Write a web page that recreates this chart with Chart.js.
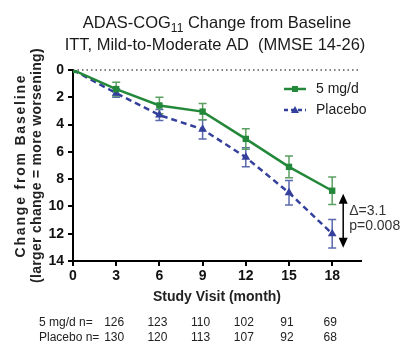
<!DOCTYPE html>
<html>
<head>
<meta charset="utf-8">
<script src="https://cdn.jsdelivr.net/npm/chart.js@4/dist/chart.umd.min.js"></script>
<style>
  html, body { margin: 0; padding: 0; background: #fff; }
  canvas { display: block; }
</style>
</head>
<body>
<canvas id="chart" width="417" height="364"></canvas>
<script>
// Données
const MONTHS = [0, 3, 6, 9, 12, 15, 18];
const DRUG = [0, 1.4, 2.6, 3.05, 5.05, 7.1, 8.85];
const DRUG_ERR = [0, 0.5, 0.6, 0.6, 0.75, 0.8, 1.0];
const PLACEBO = [0, 1.7, 3.3, 4.35, 6.4, 9.0, 12.0];
const PLACEBO_ERR = [0, 0.3, 0.4, 0.7, 0.7, 0.9, 1.05];

const X_TICKS = [0, 3, 6, 9, 12, 15, 18];
const Y_TICKS = [0, 2, 4, 6, 8, 10, 12, 14];

const N_MONTHS = [3, 6, 9, 12, 15, 18];
const N_DRUG = [126, 123, 110, 102, 91, 69];
const N_PLACEBO = [130, 120, 113, 107, 92, 68];

const DELTA_TEXT = ['\u0394=3.1', 'p=0.008'];
const Y_TITLE = ['Change from Baseline', '(larger change = more worsening)'];

const GREEN = '#23883a';
const GREEN_ERR = '#5b9f63';
const BLUE = '#34409c';
const BLUE_ERR = '#5a68ad';
const FONT = '"Liberation Sans", Arial, sans-serif';

// Titre avec indice + titre de l'axe Y
const titlePlugin = {
    id: 'titleSub',
    afterDraw(chart) {
        const ctx = chart.ctx;
        ctx.save();
        ctx.fillStyle = '#1a1a1a';
        ctx.textBaseline = 'alphabetic';
        const big = '16.5px ' + FONT;
        const small = '12px ' + FONT;
        const parts = [['ADAS-COG', big, 0], ['11', small, 4], [' Change from Baseline', big, 0]];
        let total = 0;
        parts.forEach(p => { ctx.font = p[1]; total += ctx.measureText(p[0]).width; });
        let x = 217 - total / 2;
        parts.forEach(p => {
            ctx.font = p[1];
            ctx.fillText(p[0], x, 28 + p[2]);
            x += ctx.measureText(p[0]).width;
        });
        ctx.font = big;
        ctx.textAlign = 'center';
        ctx.fillText('ITT, Mild-to-Moderate AD  (MMSE 14-26)', 215, 50);

        // titre Y sur deux lignes
        const area = chart.chartArea;
        const cy = (area.top + area.bottom) / 2;
        ctx.fillStyle = '#222';
        ctx.font = 'bold 14px ' + FONT;
        ctx.textBaseline = 'middle';
        ctx.translate(21, cy);
        ctx.rotate(-Math.PI / 2);
        ctx.letterSpacing = '1.8px';
        ctx.fillText(Y_TITLE[0], 0, 0);
        ctx.letterSpacing = '0.3px';
        ctx.fillText(Y_TITLE[1], 0, 16);
        ctx.restore();
    }
};

// Barres d'erreur, ligne pointillée, flèche et tableau des effectifs
const extrasPlugin = {
    id: 'extras',
    beforeDatasetsDraw(chart) {
        const ctx = chart.ctx;
        const xs = chart.scales.x;
        const ys = chart.scales.y;
        ctx.save();
        // ligne de référence à 0
        ctx.strokeStyle = '#555';
        ctx.lineWidth = 1.5;
        ctx.setLineDash([1.5, 3]);
        ctx.beginPath();
        ctx.moveTo(xs.getPixelForValue(0), ys.getPixelForValue(0));
        ctx.lineTo(xs.getPixelForValue(xs.max), ys.getPixelForValue(0));
        ctx.stroke();
        ctx.setLineDash([]);

        const drawErr = (vals, errs, color) => {
            ctx.strokeStyle = color;
            ctx.lineWidth = 1.5;
            MONTHS.forEach((m, i) => {
                if (!errs[i]) return;
                const px = xs.getPixelForValue(m);
                const top = ys.getPixelForValue(vals[i] - errs[i]);
                const bot = ys.getPixelForValue(vals[i] + errs[i]);
                ctx.beginPath();
                ctx.moveTo(px, top); ctx.lineTo(px, bot);
                ctx.moveTo(px - 4, top); ctx.lineTo(px + 4, top);
                ctx.moveTo(px - 4, bot); ctx.lineTo(px + 4, bot);
                ctx.stroke();
            });
        };
        drawErr(PLACEBO, PLACEBO_ERR, BLUE_ERR);
        drawErr(DRUG, DRUG_ERR, GREEN_ERR);
        ctx.restore();
    },
    afterDraw(chart) {
        const ctx = chart.ctx;
        const xs = chart.scales.x;
        const ys = chart.scales.y;
        ctx.save();

        // flèche double
        const last = MONTHS.length - 1;
        const ax = xs.getPixelForValue(MONTHS[last]) + 11;
        const y1 = ys.getPixelForValue(DRUG[last]) + 3;
        const y2 = ys.getPixelForValue(PLACEBO[last]) + 14;
        ctx.strokeStyle = '#000';
        ctx.fillStyle = '#000';
        ctx.lineWidth = 1.5;
        ctx.beginPath();
        ctx.moveTo(ax, y1 + 8); ctx.lineTo(ax, y2 - 8);
        ctx.stroke();
        ctx.beginPath();
        ctx.moveTo(ax, y1); ctx.lineTo(ax - 4.5, y1 + 10); ctx.lineTo(ax + 4.5, y1 + 10); ctx.closePath();
        ctx.fill();
        ctx.beginPath();
        ctx.moveTo(ax, y2); ctx.lineTo(ax - 4.5, y2 - 10); ctx.lineTo(ax + 4.5, y2 - 10); ctx.closePath();
        ctx.fill();

        ctx.fillStyle = '#333';
        ctx.font = '14px ' + FONT;
        ctx.textBaseline = 'middle';
        ctx.fillText(DELTA_TEXT[0], ax + 6, 211);
        ctx.fillText(DELTA_TEXT[1], ax + 6, 226);

        // légende
        const items = [
            { label: '5 mg/d', color: GREEN, dash: [], style: 'rect', y: 89 },
            { label: 'Placebo', color: BLUE, dash: [4, 3], style: 'triangle', y: 110 }
        ];
        items.forEach(it => {
            ctx.strokeStyle = it.color;
            ctx.fillStyle = it.color;
            ctx.lineWidth = 2.5;
            ctx.setLineDash(it.dash);
            ctx.beginPath();
            ctx.moveTo(284, it.y); ctx.lineTo(306, it.y);
            ctx.stroke();
            ctx.setLineDash([]);
            if (it.style === 'rect') {
                ctx.fillRect(292, it.y - 3, 6, 6);
            } else {
                ctx.beginPath();
                ctx.moveTo(295, it.y - 4); ctx.lineTo(291, it.y + 3); ctx.lineTo(299, it.y + 3); ctx.closePath();
                ctx.fill();
            }
            ctx.fillStyle = '#222';
            ctx.font = '14px ' + FONT;
            ctx.fillText(it.label, 316, it.y);
        });

        // effectifs
        ctx.fillStyle = '#222';
        ctx.font = '12px ' + FONT;
        ctx.textAlign = 'left';
        ctx.fillText('5 mg/d n=', 39, 323);
        ctx.fillText('Placebo n=', 39, 338);
        ctx.textAlign = 'center';
        N_MONTHS.forEach((m, i) => {
            const px = xs.getPixelForValue(m) - 2;
            ctx.fillText(String(N_DRUG[i]), px, 323);
            ctx.fillText(String(N_PLACEBO[i]), px, 338);
        });
        ctx.restore();
    }
};

const ctx = document.getElementById('chart').getContext('2d');
new Chart(ctx, {
    type: 'line',
    data: {
        datasets: [{
            label: '5 mg/d',
            data: MONTHS.map((m, i) => ({ x: m, y: DRUG[i] })),
            borderColor: GREEN,
            backgroundColor: GREEN,
            borderWidth: 2.5,
            pointStyle: 'rect',
            pointRadius: 4.5,
            pointBorderWidth: 0,
            tension: 0
        }, {
            label: 'Placebo',
            data: MONTHS.map((m, i) => ({ x: m, y: PLACEBO[i] })),
            borderColor: BLUE,
            backgroundColor: BLUE,
            borderWidth: 2.5,
            borderDash: [6, 4],
            pointStyle: 'triangle',
            pointRadius: 5,
            pointBorderWidth: 0,
            tension: 0
        }]
    },
    options: {
        responsive: false,
        animation: false,
        devicePixelRatio: 1,
        layout: { padding: { left: 0, right: 56, top: 70, bottom: 58 } },
        plugins: {
            legend: { display: false },
            title: { display: false },
            tooltip: { enabled: false }
        },
        scales: {
            x: {
                type: 'linear',
                min: 0,
                max: 20,
                afterBuildTicks: scale => { scale.ticks = X_TICKS.map(v => ({ value: v })); },
                afterFit: scale => { scale.height = 45; },
                border: { display: true, color: '#000', width: 2 },
                grid: { drawOnChartArea: false, drawTicks: true, tickLength: 5, color: '#000', lineWidth: 2 },
                ticks: {
                    color: '#111',
                    padding: 2,
                    font: { family: FONT, size: 14, weight: 'bold' }
                },
                title: {
                    display: true,
                    text: 'Study Visit (month)',
                    color: '#222',
                    padding: { top: 2, bottom: 0 },
                    font: { family: FONT, size: 14, weight: 'bold' }
                }
            },
            y: {
                type: 'linear',
                min: 0,
                max: 14,
                reverse: true,
                afterBuildTicks: scale => { scale.ticks = Y_TICKS.map(v => ({ value: v })); },
                afterFit: scale => { scale.width = 73; },
                border: { display: true, color: '#000', width: 2 },
                grid: { drawOnChartArea: false, drawTicks: true, tickLength: 5, color: '#000', lineWidth: 2 },
                ticks: {
                    color: '#111',
                    padding: 4,
                    font: { family: FONT, size: 14, weight: 'bold' }
                },
                title: { display: false }
            }
        }
    },
    plugins: [titlePlugin, extrasPlugin]
});
</script>
</body>
</html>
